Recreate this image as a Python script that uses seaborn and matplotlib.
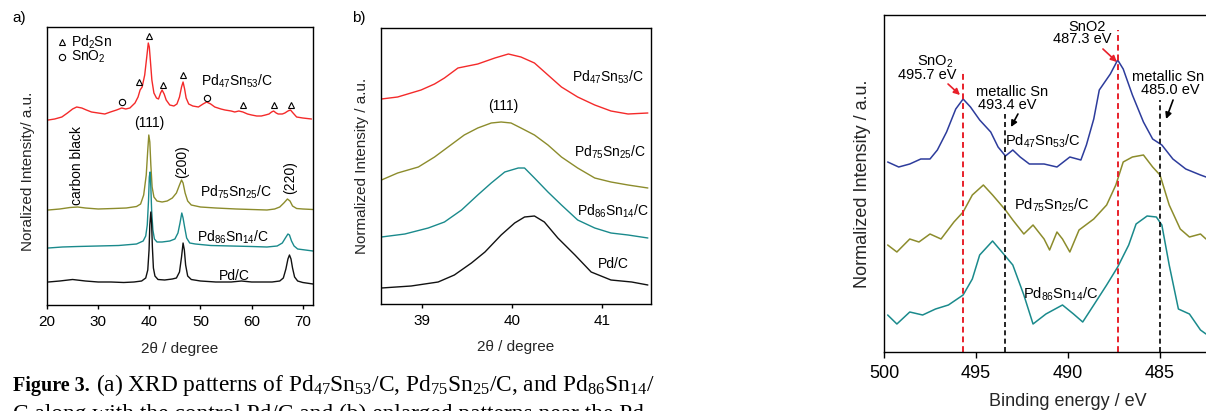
import matplotlib
matplotlib.use("Agg")
import matplotlib.pyplot as plt
import seaborn as sns
import pandas as pd

sns.set_style("ticks")
plt.rcParams['font.family'] = ['Liberation Sans', 'DejaVu Sans']
plt.rcParams['mathtext.default'] = 'regular'
plt.rcParams['axes.linewidth'] = 1.0
plt.rcParams['axes.edgecolor'] = 'black'
plt.rcParams['xtick.color'] = 'black'
plt.rcParams['text.color'] = 'black'

# ---------------- Panel a: XRD 20-72 deg (stacked, arbitrary units) ----------------
a_pd_x = [20.26, 22.5, 25.0, 27.5, 30.0, 32.5, 35.0, 37.0, 38.5, 39.3, 39.7, 39.95, 40.1, 40.3, 40.45, 40.6,
          40.8, 41.1, 41.7, 43.0, 44.5, 45.3, 45.9, 46.3, 46.6, 46.85, 47.1, 47.5, 48.2, 50.0, 53.0, 56.0,
          58.0, 60.0, 62.0, 64.0, 65.5, 66.2, 66.7, 67.1, 67.4, 67.7, 68.0, 68.4, 69.0, 70.0, 72.0]
a_pd_y = [23, 24, 25.5, 24, 23, 23, 22.5, 23, 24, 27, 35, 55, 80, 93, 82, 58,
          37, 29, 25.5, 25, 26, 27, 33, 48, 62, 55, 40, 29, 25.5, 24, 23, 23,
          24, 23, 23, 23, 24, 27, 36, 46, 50, 46, 37, 28, 24, 22.5, 21]

a_pd86_x = [20.26, 23, 26, 30, 34, 37.5, 38.8, 39.3, 39.6, 39.85, 40.0, 40.15, 40.3, 40.45, 40.7, 41.0,
            41.5, 42.5, 44.0, 45.0, 45.6, 46.0, 46.35, 46.6, 46.9, 47.3, 47.9, 49.0, 52, 56, 60, 63,
            65, 66.0, 66.6, 67.1, 67.4, 67.8, 68.3, 69.0, 70.5, 72]
a_pd86_y = [57, 58, 58.5, 59, 59.5, 61, 64, 69, 80, 105, 128, 133, 118, 95, 75, 66,
            63, 63, 64, 66, 72, 82, 92, 87, 78, 67, 62, 61, 59.5, 59, 58.5, 58,
            59, 62, 67, 71, 70, 64, 59, 56, 55, 54]

a_pd75_x = [20.26, 22.5, 24.5, 26.0, 27.5, 30.0, 33.0, 35.5, 37.5, 38.3, 38.9, 39.4, 39.7, 39.9, 40.1,
            40.3, 40.55, 40.9, 41.5, 42.5, 43.5, 44.5, 45.3, 45.9, 46.3, 46.6, 47.0, 47.5, 48.2, 50.0,
            53.0, 57.0, 60.0, 63.0, 64.5, 65.5, 66.3, 67.0, 67.5, 68.0, 68.8, 70.0, 72.0]
a_pd75_y = [95, 96, 97.5, 98, 97, 96, 96.5, 97, 98.5, 101, 110, 130, 155, 170, 163,
            140, 118, 108, 104, 103, 104, 107, 112, 120, 125, 122, 112, 104, 100, 98,
            97, 96, 95.5, 95, 96, 98, 102, 106, 104, 99, 96.5, 96, 95.5]

a_pd47_x = [20.26, 21.5, 22.9, 24.0, 25.0, 25.8, 26.8, 27.7, 28.7, 30.0, 31.3, 32.4, 33.6, 34.6, 35.4,
            36.2, 37.2, 37.8, 38.2, 38.6, 39.1, 39.5, 39.8, 40.0, 40.2, 40.5, 40.9, 41.4, 41.8, 42.2,
            42.5, 42.9, 43.3, 44.0, 44.8, 45.4, 45.9, 46.3, 46.6, 46.9, 47.2, 47.7, 48.5, 49.6, 50.5,
            51.2, 52.0, 52.8, 54.0, 54.8, 56.0, 56.7, 57.5, 58.3, 59.2, 60.0, 61.0, 61.9, 62.7, 63.4,
            63.9, 64.3, 64.8, 65.2, 66.0, 66.5, 67.1, 67.6, 68.1, 68.8, 70.0, 71.7]
a_pd47_y = [185, 186, 188, 192, 196, 198, 197, 195, 193, 192, 191, 193, 195, 197, 196,
            197, 202, 208, 215, 218, 230, 248, 262, 258, 245, 225, 212, 207, 206, 212,
            215, 211, 205, 200, 199, 201, 208, 218, 223, 216, 207, 201, 199, 198, 201,
            203, 201, 198, 196, 195, 194, 193, 194, 193, 191, 190, 189, 189, 190, 191,
            193, 194, 192, 191, 191, 192, 194, 195, 192, 188, 187, 186]

pd2sn_x = [38.0, 39.9, 42.6, 46.6, 58.3, 64.3, 67.7]
pd2sn_y = [223, 269, 220, 230, 200, 200, 200]
sno2_x = [34.6, 51.2]
sno2_y = [203, 207]

# ---------------- Panel b: XRD (111) zoom ----------------
b_pd47_x = [38.55, 38.73, 38.99, 39.14, 39.25, 39.40, 39.62, 39.81, 39.96, 40.10, 40.25, 40.40, 40.55, 40.73, 40.92, 41.10, 41.29, 41.51]
b_pd47_y = [205, 207, 214, 220, 226, 236, 240, 246, 250, 247, 241, 229, 217, 207, 199, 193, 190, 191]
b_pd75_x = [38.55, 38.73, 38.96, 39.14, 39.32, 39.47, 39.62, 39.77, 39.88, 39.99, 40.10, 40.25, 40.40, 40.55, 40.73, 40.92, 41.10, 41.29, 41.51]
b_pd75_y = [124, 131, 137, 147, 159, 169, 176, 181, 182, 181, 176, 169, 159, 147, 136, 126, 122, 119, 116]
b_pd86_x = [38.55, 38.81, 39.07, 39.25, 39.44, 39.62, 39.77, 39.92, 40.07, 40.14, 40.25, 40.40, 40.55, 40.73, 40.92, 41.10, 41.29, 41.51]
b_pd86_y = [67, 70, 76, 82, 94, 109, 121, 132, 136, 136, 126, 112, 99, 84, 76, 71, 69, 66]
b_pd_x = [38.55, 38.88, 39.18, 39.36, 39.55, 39.70, 39.88, 40.03, 40.14, 40.25, 40.36, 40.51, 40.70, 40.88, 41.10, 41.33, 41.51]
b_pd_y = [16, 18, 22, 29, 41, 52, 69, 81, 87, 88, 82, 66, 49, 32, 24, 22, 19]

# ---------------- Panel c: XPS Sn 3d ----------------
c_pd47_x = [499.8, 499.2, 498.6, 498.0, 497.5, 497.1, 496.6, 496.1, 495.7, 495.3, 494.8, 494.2, 493.8, 493.4,
            493.0, 492.6, 492.1, 491.3, 490.6, 489.9, 489.3, 489.0, 488.6, 488.3, 487.7, 487.3, 487.0, 486.5,
            485.9, 485.4, 484.9, 484.3, 483.6, 482.8, 482.5]
c_pd47_y = [190, 185, 188, 193, 193, 202, 220, 243, 253, 245, 232, 220, 205, 196,
            202, 195, 188, 188, 185, 195, 192, 207, 233, 262, 278, 292, 283, 257,
            230, 213, 207, 193, 183, 177, 175]
c_pd75_x = [499.8, 499.3, 498.6, 498.1, 497.5, 496.9, 496.2, 495.7, 495.2, 494.6, 494.1, 493.4, 493.0, 492.4,
            491.9, 491.3, 491.0, 490.6, 490.3, 489.9, 489.4, 488.6, 487.9, 487.4, 487.0, 486.5, 485.9, 485.4,
            485.0, 484.5, 483.9, 483.4, 482.8, 482.5]
c_pd75_y = [107, 100, 113, 110, 118, 113, 130, 140, 157, 167, 157, 142, 132, 118,
            127, 113, 102, 120, 113, 100, 122, 133, 147, 167, 190, 195, 197, 185,
            177, 147, 123, 115, 118, 113]
c_pd86_x = [499.8, 499.3, 498.6, 497.9, 497.2, 496.5, 495.7, 495.2, 494.8, 494.1, 493.5, 493.0, 492.4, 491.9,
            491.2, 490.3, 489.7, 489.2, 488.6, 487.9, 487.3, 486.7, 486.3, 485.7, 485.2, 484.9, 484.5, 484.0,
            483.4, 482.8, 482.5]
c_pd86_y = [37, 28, 40, 37, 43, 47, 57, 73, 97, 111, 98, 87, 57, 28,
            38, 47, 38, 30, 47, 67, 85, 107, 128, 136, 135, 127, 87, 43,
            38, 22, 18]

sno2_be = [495.7, 487.3]
sno2_top = [282, 322]
metal_be = [493.4, 485.0]
metal_top = [238, 252]

RED = '#F42A2A'
OLIVE = '#8C8C2C'
TEAL = '#1A8A8C'
BLUE = '#2D3C9C'
BLACK = '#111111'

W, H = 1206, 411
fig = plt.figure(figsize=(W / 100, H / 100), dpi=100)

def axes_px(x0, y0, x1, y1):
    return fig.add_axes([x0 / W, 1 - y1 / H, (x1 - x0) / W, (y1 - y0) / H])

def line(ax, x, y, color, lw=1.0):
    df = pd.DataFrame({'x': x, 'y': y})
    sns.lineplot(data=df, x='x', y='y', ax=ax, color=color, lw=lw, sort=False, estimator=None)

# ---- panel a
axa = axes_px(47, 27, 313, 305)
line(axa, a_pd47_x, a_pd47_y, RED)
line(axa, a_pd75_x, a_pd75_y, OLIVE)
line(axa, a_pd86_x, a_pd86_y, TEAL)
line(axa, a_pd_x, a_pd_y, BLACK)
axa.plot(pd2sn_x, pd2sn_y, ls='none', marker='^', ms=5, mfc='none', mec='black', mew=0.8)
axa.plot(sno2_x, sno2_y, ls='none', marker='o', ms=4.5, mfc='none', mec='black', mew=0.8)
axa.plot([22.9], [263], ls='none', marker='^', ms=5, mfc='none', mec='black', mew=0.8)
axa.plot([22.9], [248], ls='none', marker='o', ms=4.5, mfc='none', mec='black', mew=0.8)
axa.text(24.6, 263, 'Pd$_2$Sn', fontsize=10, va='center', ha='left')
axa.text(24.6, 248, 'SnO$_2$', fontsize=10, va='center', ha='left')
axa.set_xlim(20, 72)
axa.set_ylim(0, 278)
axa.set_xticks([20, 30, 40, 50, 60, 70])
axa.set_yticks([])
axa.tick_params(axis='x', direction='out', length=3, width=1, labelsize=11, pad=4.5)
axa.set_xlabel('2θ / degree', fontsize=11, labelpad=9)
axa.set_ylabel('Noralized Intensity/ a.u.', fontsize=11)
axa.yaxis.set_label_coords(-0.045, 0.48)
kw = dict(fontsize=10, ha='center', va='center')
axa.text(57.1, 224, 'Pd$_{47}$Sn$_{53}$/C', **kw)
axa.text(56.9, 113, 'Pd$_{75}$Sn$_{25}$/C', **kw)
axa.text(56.3, 68, 'Pd$_{86}$Sn$_{14}$/C', **kw)
axa.text(56.7, 29, 'Pd/C', **kw)
axa.text(39.9, 182, '(111)', **kw)
axa.text(25.9, 140, 'carbon black', rotation=90, **kw)
axa.text(46.4, 143, '(200)', rotation=90, **kw)
axa.text(67.5, 127, '(220)', rotation=90, **kw)
fig.text(12 / W, 1 - 18 / H, 'a)', fontsize=11, ha='left', va='center')

# ---- panel b
axb = axes_px(381, 28, 651, 304)
line(axb, b_pd47_x, b_pd47_y, RED)
line(axb, b_pd75_x, b_pd75_y, OLIVE)
line(axb, b_pd86_x, b_pd86_y, TEAL)
line(axb, b_pd_x, b_pd_y, BLACK)
axb.set_xlim(38.545, 41.545)
axb.set_ylim(0, 276)
axb.set_xticks([39, 40, 41])
axb.set_yticks([])
axb.tick_params(axis='x', direction='out', length=3, width=1, labelsize=11, pad=4.5)
axb.set_xlabel('2θ / degree', fontsize=11, labelpad=8)
axb.set_ylabel('Normalized Intensity / a.u.', fontsize=11)
axb.yaxis.set_label_coords(-0.045, 0.5)
axb.text(41.07, 227, 'Pd$_{47}$Sn$_{53}$/C', **kw)
axb.text(41.09, 152, 'Pd$_{75}$Sn$_{25}$/C', **kw)
axb.text(41.12, 93, 'Pd$_{86}$Sn$_{14}$/C', **kw)
axb.text(41.13, 40, 'Pd/C', **kw)
axb.text(39.90, 198, '(111)', **kw)
fig.text(352 / W, 1 - 18 / H, 'b)', fontsize=11, ha='left', va='center')

# ---- panel c
axc = axes_px(884, 15, 1252, 352)
line(axc, c_pd47_x, c_pd47_y, BLUE, lw=1.1)
line(axc, c_pd75_x, c_pd75_y, OLIVE, lw=1.1)
line(axc, c_pd86_x, c_pd86_y, TEAL, lw=1.1)
for be, top in zip(sno2_be, sno2_top):
    axc.plot([be, be], [0, top], color='#E8202A', lw=1.4, ls=(0, (3, 2)))
for be, top in zip(metal_be, metal_top):
    axc.plot([be, be], [0, top], color='black', lw=1.2, ls=(0, (3, 2)))
axc.set_xlim(500, 480)
axc.set_ylim(0, 337)
axc.set_xticks([500, 495, 490, 485])
axc.set_yticks([])
axc.tick_params(axis='x', direction='out', length=4, width=1, labelsize=13, pad=5.5)
axc.set_xlabel('Binding energy / eV', fontsize=13, labelpad=8)
axc.set_ylabel('Normalized Intensity / a.u.', fontsize=13)
axc.yaxis.set_label_coords(-0.035, 0.5)
kc = dict(fontsize=10.5, ha='center', va='center')
axc.text(497.23, 290, 'SnO$_2$', **kc)
axc.text(497.66, 277, '495.7 eV', **kc)
axc.text(493.04, 260, 'metallic Sn', **kc)
axc.text(493.32, 247, '493.4 eV', **kc)
axc.text(488.97, 325, 'SnO2', **kc)
axc.text(489.24, 313, '487.3 eV', **kc)
axc.text(484.57, 275, 'metallic Sn', **kc)
axc.text(484.46, 262, '485.0 eV', **kc)
axc.text(491.36, 211, 'Pd$_{47}$Sn$_{53}$/C', **kc)
axc.text(490.87, 147, 'Pd$_{75}$Sn$_{25}$/C', **kc)
axc.text(490.38, 58, 'Pd$_{86}$Sn$_{14}$/C', **kc)
arr = [((496.52, 268), (495.87, 257), '#E8202A'),
       ((492.72, 238), (493.10, 225), 'black'),
       ((488.10, 303), (487.34, 290), '#E8202A'),
       ((484.29, 252), (484.67, 233), 'black')]
for (xs, ys), (xe, ye), col in arr:
    axc.annotate('', xy=(xe, ye), xytext=(xs, ys),
                 arrowprops=dict(arrowstyle='-|>', color=col, lw=1.2, mutation_scale=9,
                                 shrinkA=0, shrinkB=0))

for ax in (axa, axb, axc):
    for s in ax.spines.values():
        s.set_visible(True)
        s.set_color('black')
        s.set_linewidth(1.0)

# ---- caption
serif = ['Liberation Serif', 'DejaVu Serif']
t1 = fig.text(13 / W, 1 - 391 / H, 'Figure 3.', fontsize=14.5, fontweight='bold', family=serif, va='baseline')
fig.canvas.draw()
bb = t1.get_window_extent()
fig.text((bb.x1 + 6) / W, 1 - 391 / H,
         '(a) XRD patterns of Pd$_{47}$Sn$_{53}$/C, Pd$_{75}$Sn$_{25}$/C, and Pd$_{86}$Sn$_{14}$/',
         fontsize=16.8, family=serif, va='baseline')
fig.text(13 / W, 1 - 420 / H, 'C along with the control Pd/C and (b) enlarged patterns near the Pd',
         fontsize=16.8, family=serif, va='baseline')

fig.savefig('out.png', dpi=100)
